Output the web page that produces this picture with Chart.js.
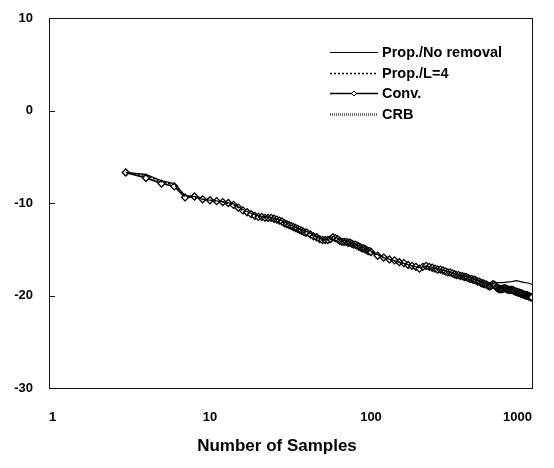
<!DOCTYPE html>
<html>
<head>
<meta charset="utf-8">
<script src="https://cdn.jsdelivr.net/npm/chart.js@4.4.1/dist/chart.umd.min.js"></script>
<style>
  html, body { margin: 0; padding: 0; background: #fff; }
  #wrap { width: 554px; height: 468px; }
</style>
</head>
<body>
<div id="wrap"><canvas id="grafico" width="554" height="468"></canvas></div>
<script>
'use strict';

// ── Dati ───────────────────────────────────────────────────────
const xTicks = [1, 10, 100, 1000];
const yTicks = [-30, -20, -10, 0, 10];

// Conv. (marker a rombo)
const convN = [
  3, 4, 5, 6, 7, 8, 9, 10, 11, 12, 13, 14, 15, 16, 17, 18, 19, 20, 21, 22,
  23, 24, 25, 26, 27, 28, 29, 30, 31, 32, 33, 34, 35, 36, 37, 38, 39, 40,
  42, 44, 46, 48, 50, 52, 54, 56, 58, 60, 62, 64, 66, 68, 70, 72, 74, 76, 78, 80,
  82, 84, 86, 88, 90, 92, 94, 96, 98, 100,
  110, 120, 130, 140, 150, 160, 170, 180, 190, 200,
  210, 220, 230, 240, 250, 260, 270, 280, 290, 300,
  310, 320, 330, 340, 350, 360, 370, 380, 390, 400,
  410, 420, 430, 440, 450, 460, 470, 480, 490, 500,
  510, 520, 530, 540, 550, 560, 570, 580, 590, 600,
  610, 620, 630, 640, 650, 660, 670, 680, 690, 700,
  710, 720, 730, 740, 750, 760, 770, 780, 790, 800,
  810, 820, 830, 840, 850, 860, 870, 880, 890, 900,
  910, 920, 930, 940, 950, 960, 970, 980, 990, 1000
];
const convVal = [
  -6.7, -7.3, -7.9, -8.2, -9.4, -9.3, -9.6, -9.7, -9.8, -9.9,
  -10.0, -10.2, -10.5, -10.8, -11.0, -11.2, -11.4, -11.5, -11.5, -11.6,
  -11.6, -11.6, -11.7, -11.8, -11.9, -12.0, -12.2, -12.3, -12.4, -12.5,
  -12.6, -12.7, -12.8, -12.9, -13.0, -13.1, -13.2, -13.2,
  -13.4, -13.6, -13.7, -13.9, -14.0, -14.0, -14.0, -13.9, -13.7, -13.8,
  -13.9, -14.1, -14.2, -14.2, -14.2, -14.3, -14.3, -14.4, -14.5, -14.5,
  -14.6, -14.7, -14.8, -14.9, -14.9, -15.0, -15.1, -15.2, -15.2, -15.3,
  -15.7, -15.9, -16.1, -16.2, -16.4, -16.5, -16.7, -16.8, -16.9, -17.1,
  -16.9, -16.8, -16.9, -17.0, -17.1, -17.2, -17.2, -17.3, -17.4, -17.5,
  -17.5, -17.6, -17.7, -17.8, -17.8, -17.9, -17.9, -18.0, -18.0, -18.1,
  -18.2, -18.2, -18.3, -18.3, -18.4, -18.5, -18.5, -18.6, -18.7, -18.7,
  -18.8, -18.8, -18.9, -19.0, -19.0, -18.9, -18.8, -18.8, -18.9, -19.1,
  -19.2, -19.3, -19.3, -19.3, -19.3, -19.3, -19.2, -19.2, -19.3, -19.3,
  -19.4, -19.4, -19.4, -19.4, -19.4, -19.4, -19.5, -19.5, -19.6, -19.6,
  -19.6, -19.7, -19.7, -19.7, -19.8, -19.8, -19.8, -19.9, -19.9, -19.9,
  -20.0, -20.0, -20.0, -20.0, -20.1, -20.1, -20.1, -20.2, -20.2, -20.2
];

// Prop./No removal (linea continua)
const propN = [3, 4, 5, 6, 7, 8, 9, 10, 12, 14, 16, 18, 20, 24, 28, 32, 36, 40, 45, 50,
  55, 58, 62, 66, 70, 76, 84, 92, 100, 120, 150, 180, 200, 220, 260, 300, 350, 400, 450, 500,
  560, 600, 650, 700, 750, 800, 850, 900, 950, 1000];
const propVal = [-6.7, -6.9, -7.6, -7.9, -9.2, -9.3, -9.6, -9.7, -9.85, -10.1, -10.7, -11.1, -11.4, -11.55, -11.9, -12.4, -12.8, -13.1, -13.5, -13.9,
  -13.9, -13.6, -13.8, -14.0, -14.1, -14.3, -14.6, -14.9, -15.2, -15.9, -16.4, -16.8, -17.0, -16.8, -17.1, -17.4, -17.8, -18.0, -18.3, -18.6,
  -18.8, -18.6, -18.6, -18.55, -18.5, -18.4, -18.5, -18.6, -18.65, -18.8];

// Prop./L=4 (linea a puntini)
const propL4N = [3, 4, 5, 6, 7, 8, 9, 10, 12, 14, 16, 18, 20, 23, 26, 30, 34, 38, 42, 46,
  50, 55, 60, 65, 70, 80, 90, 100, 120, 150, 200, 250, 300, 400, 500, 600, 700, 800, 900, 1000];
const propL4Val = [-6.7, -7.0, -7.7, -8.0, -9.3, -9.3, -9.6, -9.7, -9.9, -10.2, -10.8, -11.2, -11.5, -11.6, -11.8, -12.3, -12.7, -13.1, -13.4, -13.7,
  -14.0, -14.0, -13.8, -14.1, -14.2, -14.5, -14.9, -15.3, -15.9, -16.4, -17.0, -17.1, -17.4, -18.0, -18.6, -19.0, -19.2, -19.5, -19.8, -20.1];

// CRB (linea grigia)
const crbN = [3, 4, 5, 6, 7, 8, 10, 12, 15, 20, 25, 30, 40, 50, 60, 70, 80, 100, 130, 160,
  200, 250, 300, 400, 500, 600, 700, 800, 1000];
const crbVal = [-6.7, -7.1, -7.8, -8.1, -9.3, -9.3, -9.7, -9.9, -10.5, -11.5, -11.7, -12.3, -13.2, -14.0, -13.8, -14.2, -14.5, -15.3, -16.1, -16.5,
  -17.0, -17.1, -17.4, -18.0, -18.6, -19.0, -19.3, -19.6, -20.1];

function punti(xs, ys) {
  return xs.map((x, i) => ({ x: x, y: ys[i] }));
}

const FONT = "'Liberation Sans', Arial, sans-serif";

// cornice del grafico + tacche interne asse y
const cornice = {
  id: 'cornice',
  afterDatasetsDraw(chart) {
    const { ctx, chartArea: a, scales } = chart;
    ctx.save();
    ctx.strokeStyle = '#111';
    ctx.lineWidth = 1;
    ctx.strokeRect(Math.round(a.left) + 0.5, Math.round(a.top) + 0.5,
      Math.round(a.right - a.left), Math.round(a.bottom - a.top));
    ctx.beginPath();
    yTicks.slice(1, -1).forEach(v => {
      const y = Math.round(scales.y.getPixelForValue(v)) + 0.5;
      ctx.moveTo(a.left, y);
      ctx.lineTo(a.left + 6, y);
    });
    ctx.stroke();
    ctx.restore();
  }
};

// legenda dentro l'area del grafico
const legenda = {
  id: 'legenda',
  afterDraw(chart) {
    const ctx = chart.ctx;
    const x0 = 330, x1 = 378, tx = 382;
    const righe = [52, 73, 93, 114];
    ctx.save();
    ctx.font = 'bold 14.5px ' + FONT;
    ctx.textBaseline = 'middle';
    ctx.fillStyle = '#000';
    chart.data.datasets.forEach((ds, i) => {
      const y = righe[i] + 0.5;
      ctx.beginPath();
      ctx.setLineDash(ds.borderDash || []);
      ctx.strokeStyle = ds.borderColor;
      ctx.lineWidth = ds.borderWidth;
      ctx.moveTo(x0, y);
      ctx.lineTo(x1, y);
      ctx.stroke();
      ctx.setLineDash([]);
      if (ds.pointRadius > 0) {
        const cx = (x0 + x1) / 2, r = 2.5;
        ctx.beginPath();
        ctx.moveTo(cx, y - r); ctx.lineTo(cx + r, y); ctx.lineTo(cx, y + r); ctx.lineTo(cx - r, y);
        ctx.closePath();
        ctx.fillStyle = '#fff';
        ctx.fill();
        ctx.strokeStyle = '#000';
        ctx.lineWidth = 1;
        ctx.stroke();
        ctx.fillStyle = '#000';
      }
      ctx.fillText(ds.label, tx, righe[i] + 1);
    });
    ctx.restore();
  }
};

new Chart(document.getElementById('grafico').getContext('2d'), {
  type: 'line',
  data: {
    datasets: [
      { label: 'Prop./No removal', data: punti(propN, propVal), borderColor: '#000', borderWidth: 1.2, pointRadius: 0, order: 1 },
      { label: 'Prop./L=4', data: punti(propL4N, propL4Val), borderColor: '#000', borderWidth: 1.5, borderDash: [2, 2], pointRadius: 0, order: 2 },
      { label: 'Conv.', data: punti(convN, convVal), borderColor: '#000', borderWidth: 1.5, pointRadius: 3.5, pointStyle: 'rectRot',
        pointBackgroundColor: '#fff', pointBorderColor: '#000', pointBorderWidth: 1.3, order: 3 },
      { label: 'CRB', data: punti(crbN, crbVal), borderColor: '#6e6e6e', borderWidth: 3, borderDash: [1, 1], pointRadius: 0, order: 4 }
    ]
  },
  options: {
    responsive: false,
    animation: false,
    layout: { padding: { top: 18, right: 0, bottom: 0, left: 0 } },
    plugins: {
      legend: { display: false },
      tooltip: { enabled: false },
      title: {
        display: true, position: 'bottom', text: 'Number of Samples', color: '#000',
        padding: { top: 0, bottom: 11 }, font: { family: FONT, size: 17, weight: 'bold' }
      }
    },
    scales: {
      x: {
        type: 'logarithmic', min: 1, max: 1000,
        grid: { display: false, drawTicks: false },
        border: { display: false },
        afterBuildTicks: s => { s.ticks = xTicks.map(v => ({ value: v })); },
        afterFit: s => { s.height = 48.6; s.paddingLeft = 0; s.paddingRight = 22; },
        ticks: { color: '#000', padding: 22, maxRotation: 0, align: 'inner', font: { family: FONT, size: 13, weight: 'bold' }, callback: v => String(v) }
      },
      y: {
        min: -30, max: 10,
        grid: { display: false, drawTicks: false },
        border: { display: false },
        afterBuildTicks: s => { s.ticks = yTicks.map(v => ({ value: v })); },
        afterFit: s => { s.width = 49; s.paddingTop = 0; s.paddingBottom = 0; },
        ticks: { color: '#000', padding: 16, font: { family: FONT, size: 13, weight: 'bold' } }
      }
    }
  },
  plugins: [cornice, legenda]
});
</script>
</body>
</html>
